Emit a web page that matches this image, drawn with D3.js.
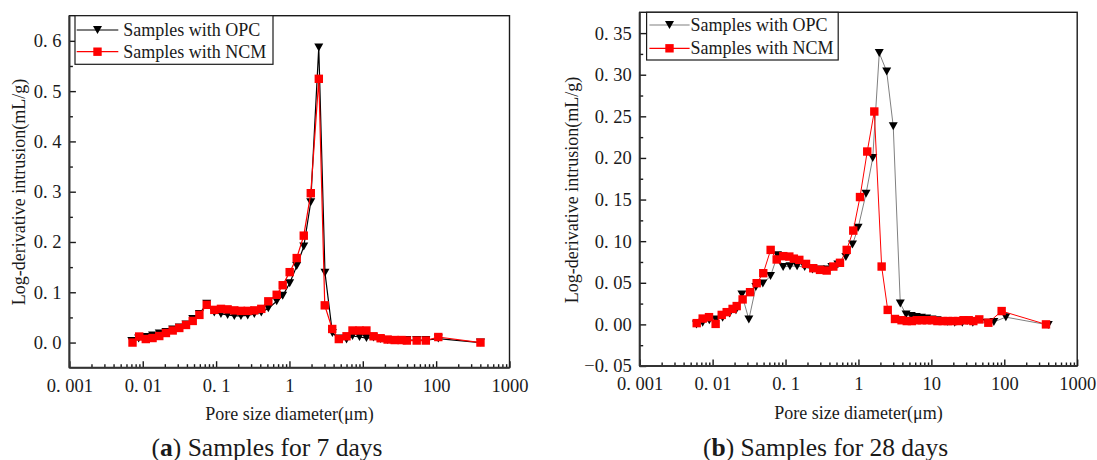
<!DOCTYPE html>
<html>
<head>
<meta charset="utf-8">
<script src="https://cdn.jsdelivr.net/npm/d3@7"></script>
<style>
  html, body { margin: 0; padding: 0; background: #fff; }
  svg { display: block; }
  text { font-family: "Liberation Serif", "Times New Roman", serif; fill: #1a1a1a; }
</style>
</head>
<body>
<svg id="chart" width="1097" height="460"></svg>
<script>
// ---------------- DATA ----------------
const seriesNames = ["Samples with OPC", "Samples with NCM"];
const xTickValues = [0.001, 0.01, 0.1, 1, 10, 100, 1000];
const xTickLabels = ["0. 001", "0. 01", "0. 1", "1", "10", "100", "1000"];
const xTitle = "Pore size diameter(\u03BCm)";
const yTitle = "Log-derivative intrusion(mL/g)";

// (a) 7 days
const yTicks7 = [0, 0.1, 0.2, 0.3, 0.4, 0.5, 0.6];
const yTickLabels7 = ["0. 0", "0. 1", "0. 2", "0. 3", "0. 4", "0. 5", "0. 6"];
const opc7x = [0.0071, 0.0088, 0.0110, 0.0136, 0.0168, 0.0207, 0.0256, 0.0315, 0.0389, 0.0480, 0.0592, 0.0745,
  0.0945, 0.1165, 0.1435, 0.177, 0.218, 0.27, 0.332, 0.413, 0.515, 0.67, 0.809, 1.007, 1.256, 1.567, 1.95, 2.51,
  3.05, 3.85, 4.71, 6.0, 7.24, 9.02, 11.2, 14.0, 17.5, 21.8, 27.2, 33.8, 39.9, 54.3, 72.3, 107, 402];
const opc7y = [0.003, 0.008, 0.011, 0.014, 0.018, 0.021, 0.026, 0.030, 0.036, 0.047, 0.057, 0.077,
  0.060, 0.057, 0.055, 0.053, 0.053, 0.054, 0.057, 0.060, 0.068, 0.082, 0.093, 0.118, 0.152, 0.191, 0.279, 0.587,
  0.139, 0.019, 0.008, 0.006, 0.013, 0.011, 0.009, 0.010, 0.007, 0.005, 0.005, 0.005, 0.005, 0.005, 0.005, 0.008, 0.0];
const ncm7x = [0.00725, 0.00895, 0.0110, 0.0136, 0.0168, 0.0207, 0.0256, 0.0315, 0.0389, 0.0480, 0.0592, 0.0745,
  0.0945, 0.1165, 0.1435, 0.177, 0.218, 0.27, 0.332, 0.413, 0.515, 0.67, 0.809, 1.007, 1.256, 1.567, 1.954, 2.514,
  3.03, 3.83, 4.71, 6.0, 7.24, 9.02, 11.2, 14.0, 17.5, 21.8, 27.2, 33.8, 39.9, 54.3, 72.3, 107, 402];
const ncm7y = [0.0, 0.012, 0.007, 0.009, 0.013, 0.019, 0.024, 0.029, 0.035, 0.043, 0.055, 0.075,
  0.065, 0.067, 0.066, 0.064, 0.063, 0.063, 0.064, 0.067, 0.082, 0.095, 0.114, 0.140, 0.168, 0.2126, 0.297, 0.5245,
  0.074, 0.027, 0.007, 0.0125, 0.024, 0.024, 0.024, 0.0125, 0.0086, 0.006, 0.005, 0.005, 0.004, 0.004, 0.004, 0.011, 0.0];

// (b) 28 days
const yTicks28 = [-0.05, 0, 0.05, 0.1, 0.15, 0.2, 0.25, 0.3, 0.35];
const yTickLabels28 = ["\u22120. 05", "0. 00", "0. 05", "0. 10", "0. 15", "0. 20", "0. 25", "0. 30", "0. 35"];
const opc28x = [0.0060, 0.0073, 0.0090, 0.0111, 0.0137, 0.0171, 0.0209, 0.0252, 0.0314, 0.0392, 0.0488, 0.0622,
  0.0776, 0.0927, 0.115, 0.144, 0.183, 0.234, 0.301, 0.375, 0.432, 0.522, 0.672, 0.828, 0.989, 1.27, 1.57, 1.93,
  2.44, 3.0, 3.75, 4.5, 5.3, 6.2, 7.3, 8.6, 10.2, 12.0, 14.2, 16.8, 20.9, 26.6, 31.0, 37.0, 58.0, 72.0, 105, 401];
const opc28y = [0.000, 0.002, 0.005, 0.006, 0.008, 0.013, 0.017, 0.036, 0.006, 0.045, 0.049, 0.058,
  0.083, 0.069, 0.070, 0.070, 0.069, 0.066, 0.066, 0.066, 0.069, 0.072, 0.081, 0.096, 0.116, 0.157, 0.200, 0.326,
  0.304, 0.238, 0.025, 0.012, 0.010, 0.009, 0.008, 0.007, 0.006, 0.005, 0.004, 0.003, 0.002, 0.002, 0.004, 0.002, 0.002, 0.003, 0.0087, -0.0006];
const ncm28x = [0.00605, 0.00731, 0.00892, 0.0110, 0.01333, 0.0156, 0.0188, 0.0214, 0.0258, 0.0326, 0.0402, 0.0495,
  0.0625, 0.0756, 0.0931, 0.1127, 0.130, 0.1545, 0.191, 0.240, 0.297, 0.367, 0.452, 0.558, 0.690, 0.849, 1.05, 1.32,
  1.65, 2.08, 2.52, 3.17, 3.9, 4.6, 5.4, 6.3, 7.4, 8.7, 10.3, 12.1, 14.3, 16.8, 19.8, 23.4, 27.6, 32.5, 37.6, 45.4, 60.4, 92, 373];
const ncm28y = [0.0015, 0.007, 0.0087, 0.0006, 0.0114, 0.0147, 0.0186, 0.022, 0.030, 0.0387, 0.0495, 0.0615,
  0.0895, 0.078, 0.082, 0.0815, 0.079, 0.0775, 0.0727, 0.0675, 0.0655, 0.0647, 0.0695, 0.074, 0.0895, 0.1127, 0.153, 0.2077,
  0.2558, 0.0695, 0.0174, 0.0065, 0.005, 0.004, 0.004, 0.005, 0.005, 0.005, 0.005, 0.004, 0.004, 0.004, 0.004, 0.004, 0.005, 0.005, 0.004, 0.006, 0.002, 0.016, 0.0];

// ---------------- DRAW ----------------
const svg = d3.select("#chart");
const INK = "#1a1a1a";

const panels = [
  {
    left: 69.4, right: 509.5, top: 15.7, bottom: 367.7,
    yDomain: [-0.05, 0.65], yTicks: yTicks7, yLabels: yTickLabels7,
    yMinor: d3.range(-0.05, 0.651, 0.1).map(v => +v.toFixed(3)),
    opc: opc7x.map((x, i) => [x, opc7y[i]]), ncm: ncm7x.map((x, i) => [x, ncm7y[i]]),
    opcLine: "#000", lineW: 1.2,
    legend: { x0: 75, x1: 273, y0: 15.7, y1: 64.3, l0: 76.7, l1: 118.3, tx: 123.3, r1: 30, r2: 51.7 },
    yTitleX: 19.3, yTitleY: 192, xTitleY: 414, capX: 267, capY: 447,
    capBold: "a", capRest: " Samples for 7 days"
  },
  {
    left: 639.7, right: 1077.2, top: 12.3, bottom: 366,
    yDomain: [-0.05, 0.375], yTicks: yTicks28, yLabels: yTickLabels28,
    yMinor: d3.range(-0.025, 0.376, 0.05).map(v => +v.toFixed(3)),
    opc: opc28x.map((x, i) => [x, opc28y[i]]), ncm: ncm28x.map((x, i) => [x, ncm28y[i]]),
    opcLine: "#808080", lineW: 1.0,
    legend: { x0: 646.6, x1: 838.2, y0: 12.3, y1: 60, l0: 649.4, l1: 689.6, tx: 690.5, r1: 25, r2: 48.3 },
    yTitleX: 571.6, yTitleY: 190, xTitleY: 413, capX: 825.6, capY: 447,
    capBold: "b", capRest: " Samples for 28 days"
  }
];

const xMinorVals = [];
for (let e = -3; e < 3; e++) for (let m = 2; m <= 9; m++) xMinorVals.push(m * Math.pow(10, e));

function triPath(w, h) {
  return `M${-w/2},${-h/2}L${w/2},${-h/2}L0,${h/2}Z`;
}

panels.forEach(p => {
  const x = d3.scaleLog().domain([0.001, 1000]).range([p.left, p.right]);
  const y = d3.scaleLinear().domain(p.yDomain).range([p.bottom, p.top]);
  const g = svg.append("g");

  // axes
  const xAxis = g.append("g").attr("transform", `translate(0,${p.bottom})`)
    .call(d3.axisBottom(x).tickValues(xTickValues).tickSizeInner(-6.5).tickSizeOuter(0)
      .tickPadding(11).tickFormat((d, i) => xTickLabels[i]));
  const xMinor = g.append("g").attr("transform", `translate(0,${p.bottom})`)
    .call(d3.axisBottom(x).tickValues(xMinorVals).tickSizeInner(-3.5).tickSizeOuter(0).tickFormat(""));
  const yAxis = g.append("g").attr("transform", `translate(${p.left},0)`)
    .call(d3.axisLeft(y).tickValues(p.yTicks).tickSizeInner(-6.5).tickSizeOuter(0)
      .tickPadding(8).tickFormat((d, i) => p.yLabels[i]));
  const yMinor = g.append("g").attr("transform", `translate(${p.left},0)`)
    .call(d3.axisLeft(y).tickValues(p.yMinor.filter(v => v > p.yDomain[0] + 1e-6 && v < p.yDomain[1] - 1e-6))
      .tickSizeInner(-3.5).tickSizeOuter(0).tickFormat(""));
  [xAxis, xMinor, yAxis, yMinor].forEach(a => {
    a.select(".domain").remove();
    a.selectAll("line").attr("stroke", INK).attr("stroke-width", 1.4);
    a.selectAll("text").attr("font-family", "Liberation Serif, serif").attr("font-size", 18.5).attr("fill", INK);
  });

  // frame
  g.append("rect").attr("x", p.left).attr("y", p.top)
    .attr("width", p.right - p.left).attr("height", p.bottom - p.top)
    .attr("fill", "none").attr("stroke", INK).attr("stroke-width", 1.4);
  g.append("line").attr("x1", p.left).attr("x2", p.left).attr("y1", p.top).attr("y2", p.bottom)
    .attr("stroke", "#333").attr("stroke-width", 2);
  g.append("line").attr("x1", p.left).attr("x2", p.right).attr("y1", p.bottom).attr("y2", p.bottom)
    .attr("stroke", "#333").attr("stroke-width", 2);

  const line = d3.line().x(d => x(d[0])).y(d => y(d[1]));

  // OPC
  g.append("path").datum(p.opc).attr("d", line).attr("fill", "none")
    .attr("stroke", p.opcLine).attr("stroke-width", p.lineW);
  g.append("g").selectAll("path").data(p.opc).join("path")
    .attr("d", triPath(9, 8)).attr("transform", d => `translate(${x(d[0])},${y(d[1])})`)
    .attr("fill", "#000");

  // NCM
  g.append("path").datum(p.ncm).attr("d", line).attr("fill", "none")
    .attr("stroke", "#ff0000").attr("stroke-width", p.lineW);
  g.append("g").selectAll("rect").data(p.ncm).join("rect")
    .attr("x", d => x(d[0]) - 4.2).attr("y", d => y(d[1]) - 4.2)
    .attr("width", 8.4).attr("height", 8.4).attr("fill", "#ff0000");

  // legend
  const L = p.legend;
  g.append("rect").attr("x", L.x0).attr("y", L.y0).attr("width", L.x1 - L.x0).attr("height", L.y1 - L.y0)
    .attr("fill", "#fff").attr("stroke", INK).attr("stroke-width", 1.2);
  [[L.r1, p.opcLine, "tri", seriesNames[0]], [L.r2, "#ff0000", "sq", seriesNames[1]]].forEach(([ry, col, m, name]) => {
    g.append("line").attr("x1", L.l0).attr("x2", L.l1).attr("y1", ry).attr("y2", ry)
      .attr("stroke", col).attr("stroke-width", 1.2);
    const mx = (L.l0 + L.l1) / 2;
    if (m === "tri") {
      g.append("path").attr("d", triPath(9, 8)).attr("transform", `translate(${mx},${ry})`).attr("fill", "#000");
    } else {
      g.append("rect").attr("x", mx - 4.2).attr("y", ry - 4.2).attr("width", 8.4).attr("height", 8.4).attr("fill", "#ff0000");
    }
    g.append("text").attr("x", L.tx).attr("y", ry + 6).attr("font-size", 18).text(name);
  });

  // titles
  g.append("text").attr("x", (p.left + p.right) / 2).attr("y", p.xTitleY + 6)
    .attr("text-anchor", "middle").attr("font-size", 18).text(xTitle);
  g.append("text").attr("transform", `translate(${p.yTitleX + 6},${p.yTitleY}) rotate(-90)`)
    .attr("text-anchor", "middle").attr("font-size", 18).text(yTitle);

  const cap = g.append("text").attr("x", p.capX).attr("y", p.capY + 8.5)
    .attr("text-anchor", "middle").attr("font-size", 25.5);
  cap.append("tspan").text("(");
  cap.append("tspan").attr("font-weight", "bold").text(p.capBold);
  cap.append("tspan").text(")" + p.capRest);
});
</script>
</body>
</html>
